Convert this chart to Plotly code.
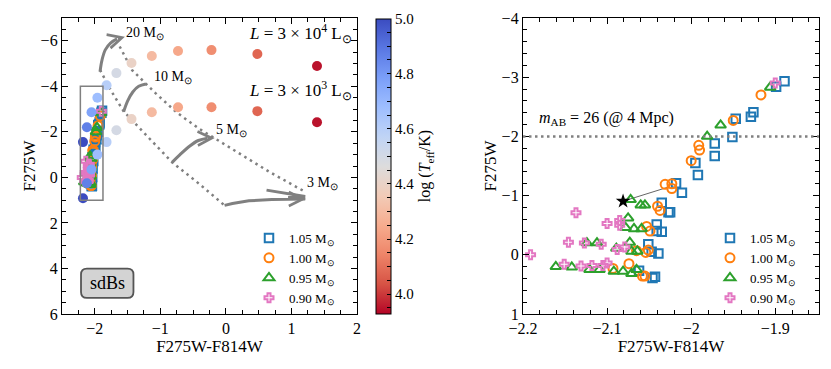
import plotly.graph_objects as go

FONT = "Liberation Serif"
GRAY = "#808080"

# ---- left panel: coloured points at two luminosities ----
teff_x = [1.39, 0.48, -0.22, -0.73, -1.13, -1.44, -1.67, -1.82, -1.96, -2.05, -2.12, -2.18]
teff_y_hi = [-4.89, -5.42, -5.59, -5.55, -5.33, -5.02, -4.58, -4.05, -3.5, -2.86, -2.2, -1.55]
teff_y_lo = [-2.42, -2.91, -3.08, -3.08, -2.86, -2.56, -2.07, -1.55, -1.0, -0.35, 0.26, 0.92]
log_teff = [3.95, 4.08, 4.17, 4.24, 4.3, 4.4, 4.5, 4.6, 4.68, 4.77, 4.87, 5.0]

# evolutionary tracks (solid grey)
trk20_x = [-1.92, -1.89, -1.84, -1.76, -1.66]
trk20_y = [-4.64, -5.15, -5.6, -5.9, -6.08]
trk10_x = [-1.56, -1.50, -1.42, -1.33, -1.22]
trk10_y = [-2.88, -3.35, -3.75, -4.0, -4.1]
trk5_x = [-0.82, -0.70, -0.55, -0.42, -0.28]
trk5_y = [-0.66, -1.0, -1.38, -1.62, -1.72]
trk3_x = [-0.02, 0.1, 0.35, 0.7, 1.21, 0.95, 1.21, 0.62]
trk3_y = [1.23, 1.15, 1.03, 0.97, 0.95, 0.88, 0.84, 0.56]

# dotted lines joining track starts / ends
zams_x = [-1.92, -1.75, -1.56, -1.2, -0.82, -0.4, -0.02]
zams_y = [-4.72, -3.8, -2.9, -1.8, -0.66, 0.3, 1.23]
tams_x = [-1.62, -1.43, -1.07, -0.75, -0.41, 0.05, 0.67, 1.2]
tams_y = [-5.75, -4.71, -3.69, -2.85, -2.14, -1.34, -0.23, 0.62]

# ---- model points (both panels) ----
m105_x = [-1.889, -1.899, -1.926, -1.929, -1.947, -1.951, -1.972, -1.972, -1.995, -1.992, -2.018, -2.011,
          -2.035, -2.027, -2.025, -2.041, -2.041, -2.035, -2.051, -2.047, -2.039, -2.062, -2.046, -2.043]
m105_y = [-2.93, -2.84, -2.41, -2.33, -2.30, -1.99, -1.88, -1.67, -1.55, -1.35, -1.21, -1.05,
          -0.88, -0.72, -0.72, -0.51, -0.40, -0.39, -0.18, -0.05, -0.02, 0.27, 0.39, 0.37]
m100_x = [-1.917, -1.950, -1.991, -1.990, -2.0, -2.031, -2.023, -2.023, -2.040, -2.037, -2.053, -2.049,
          -2.065, -2.054, -2.051, -2.093, -2.074, -2.058, -2.055]
m100_y = [-2.70, -2.27, -1.85, -1.77, -1.59, -1.19, -1.20, -1.12, -0.82, -0.75, -0.48, -0.40,
          -0.07, -0.04, -0.08, 0.23, 0.15, 0.36, 0.36]
m095_x = [-1.906, -1.965, -1.981, -2.072, -2.060, -2.055, -2.075, -2.078, -2.068, -2.059, -2.124, -2.112,
          -2.089, -2.073, -2.071, -2.064, -2.161, -2.142, -2.121, -2.109, -2.092, -2.081, -2.071, -2.065]
m095_y = [-2.83, -2.19, -2.0, -0.93, -0.84, -0.84, -0.62, -0.46, -0.44, -0.44, -0.20, -0.20,
          -0.11, -0.21, -0.06, -0.06, 0.20, 0.21, 0.25, 0.25, 0.28, 0.28, 0.32, 0.25]
m090_x = [-1.900, -2.137, -2.100, -2.085, -2.085, -2.146, -2.127, -2.107, -2.088, -2.079, -2.191,
          -2.151, -2.131, -2.118, -2.105, -2.100]
m090_y = [-2.90, -0.71, -0.53, -0.58, -0.50, -0.21, -0.20, -0.18, -0.09, -0.13, 0.0,
          0.16, 0.19, 0.18, 0.18, 0.14]

star_x = [-2.081]
star_y = [-0.905]
link_x = [-2.081, -2.028]
link_y = [-0.905, -1.14]

models = [
    ("1.05 M<sub>⊙</sub>", m105_x, m105_y, "square-open", "#1f77b4", 8.5, 2),
    ("1.00 M<sub>⊙</sub>", m100_x, m100_y, "circle-open", "#ff7f0e", 9, 2),
    ("0.95 M<sub>⊙</sub>", m095_x, m095_y, "triangle-up-open", "#2ca02c", 9.5, 2),
    ("0.90 M<sub>⊙</sub>", m090_x, m090_y, "cross-open", "#e377c2", 7.5, 2),
]

coolwarm_r = [[0.0, "#b40426"], [0.1, "#d65244"], [0.2, "#ee8468"], [0.3, "#f7ac8e"],
              [0.4, "#f2cbb7"], [0.5, "#dddcdc"], [0.6, "#c0d4f5"], [0.7, "#9ebeff"],
              [0.8, "#7b9ff9"], [0.9, "#5977e3"], [1.0, "#3b4cc0"]]

# plot area in pixels: x 60..819, y 18..314
L, R, T, B = 60, 12, 18, 55
PW = 831 - L - R


def fx(px):
    return (px - L) / PW


fig = go.Figure()

for xs, ys in [(zams_x, zams_y), (tams_x, tams_y)]:
    fig.add_trace(go.Scatter(x=xs, y=ys, mode="lines", line=dict(color=GRAY, width=2.5, dash="2.5px,4px"),
                             showlegend=False, hoverinfo="skip", xaxis="x", yaxis="y"))
for xs, ys, shp in [(trk20_x, trk20_y, "spline"), (trk10_x, trk10_y, "spline"),
                    (trk5_x, trk5_y, "spline"), (trk3_x, trk3_y, "linear")]:
    fig.add_trace(go.Scatter(x=xs, y=ys, mode="lines", line=dict(color=GRAY, width=3, shape=shp),
                             showlegend=False, hoverinfo="skip", xaxis="x", yaxis="y"))

# rectangle around the sdB region
fig.add_shape(type="rect", xref="x", yref="y", x0=-2.22, x1=-1.875, y0=-4, y1=1,
              line=dict(color=GRAY, width=1.5))

for name, xs, ys, sym, col, sz, lw in models:
    fig.add_trace(go.Scatter(x=xs, y=ys, mode="markers", name=name,
                             marker=dict(symbol=sym, size=sz, color=col, line=dict(width=lw, color=col)),
                             xaxis="x", yaxis="y", legend="legend"))

fig.add_trace(go.Scatter(
    x=teff_x + teff_x, y=teff_y_hi + teff_y_lo, mode="markers", showlegend=False,
    marker=dict(size=10, color=log_teff + log_teff, colorscale=coolwarm_r, cmin=3.93, cmax=5.0,
                line=dict(width=0),
                colorbar=dict(x=fx(376), xanchor="left", xpad=0, y=0.5, yanchor="middle", ypad=0,
                              len=0.995, thickness=15, outlinewidth=1, outlinecolor="black",
                              tickvals=[round(3.95 + 0.05 * i, 2) for i in range(22)],
                              ticktext=[("%.1f" % (3.95 + 0.05 * i)) if i % 4 == 1 else "" for i in range(22)],
                              ticks="inside", ticklen=4, tickcolor="black",
                              tickfont=dict(family=FONT, size=15, color="black"),
                              title=dict(text="log (<i>T</i><sub>eff</sub>/K)", side="right",
                                         font=dict(family=FONT, size=16, color="black")))),
    xaxis="x", yaxis="y"))

# ---- right panel ----
fig.add_trace(go.Scatter(x=link_x, y=link_y, mode="lines", line=dict(color="#666666", width=1),
                         showlegend=False, xaxis="x2", yaxis="y2"))
for name, xs, ys, sym, col, sz, lw in models:
    fig.add_trace(go.Scatter(x=xs, y=ys, mode="markers", name=name,
                             marker=dict(symbol=sym, size=sz, color=col, line=dict(width=lw, color=col)),
                             xaxis="x2", yaxis="y2", legend="legend2"))
fig.add_trace(go.Scatter(x=star_x, y=star_y, mode="markers", showlegend=False,
                         marker=dict(symbol="star", size=11, color="black"), xaxis="x2", yaxis="y2"))

fig.add_shape(type="line", xref="x2 domain", yref="y2", x0=0, x1=1, y0=-2, y1=-2,
              line=dict(color=GRAY, width=2.5, dash="2.5px,3.5px"))

# arrowheads on tracks
arrows = [(-1.54, -6.18, -1.66, -6.08), (-1.12, -4.13, -1.22, -4.1),
          (-0.17, -1.73, -0.28, -1.72), (1.22, 0.95, 1.1, 0.95)]
for x, y, ax, ay in arrows:
    fig.add_annotation(x=x, y=y, ax=ax, ay=ay, xref="x", yref="y", axref="x", ayref="y", text="",
                       showarrow=True, arrowhead=5, arrowsize=1.1, arrowwidth=2.5, arrowcolor=GRAY,
                       standoff=0)

labels = [("20 M<sub>⊙</sub>", -1.56, -6.34), ("10 M<sub>⊙</sub>", -1.13, -4.4),
          ("5 M<sub>⊙</sub>", -0.18, -2.07), ("3 M<sub>⊙</sub>", 1.21, 0.27)]
for t, x, y in labels:
    fig.add_annotation(x=x, y=y, xref="x", yref="y", text=t, showarrow=False, xanchor="left",
                       font=dict(family=FONT, size=14, color="black"))

for t, y in [("<i>L</i> = 3 × 10<sup>4</sup> L<sub>⊙</sub>", -6.34),
             ("<i>L</i> = 3 × 10<sup>3</sup> L<sub>⊙</sub>", -3.83)]:
    fig.add_annotation(x=1.95, y=y, xref="x", yref="y", text=t, showarrow=False, xanchor="right",
                       font=dict(family=FONT, size=17, color="black"))

# sdBs rounded box
x0, x1, y0, y1, rx, ry = -2.21, -1.41, 4.01, 5.29, 0.09, 0.26
path = (f"M {x0+rx},{y0} L {x1-rx},{y0} Q {x1},{y0} {x1},{y0+ry} L {x1},{y1-ry} Q {x1},{y1} {x1-rx},{y1} "
        f"L {x0+rx},{y1} Q {x0},{y1} {x0},{y1-ry} L {x0},{y0+ry} Q {x0},{y0} {x0+rx},{y0} Z")
fig.add_shape(type="path", path=path, xref="x", yref="y", fillcolor="#d3d3d3",
              line=dict(color="#555555", width=1.8))
fig.add_annotation(x=-1.81, y=4.65, xref="x", yref="y", text="sdBs", showarrow=False,
                   font=dict(family=FONT, size=18, color="black"))

fig.add_annotation(x=-2.183, y=-2.31, xref="x2", yref="y2", xanchor="left",
                   text="<i>m</i><sub>AB</sub> = 26 (@ 4 Mpc)", showarrow=False,
                   font=dict(family=FONT, size=16, color="black"))


def axis(rng, dtick, minor, domain, title, anchor):
    return dict(range=rng, dtick=dtick, tick0=0, domain=domain, anchor=anchor, automargin=False,
                showline=True, linecolor="black", linewidth=1.3, mirror="allticks",
                ticks="inside", ticklen=6, tickwidth=1.2, tickcolor="black",
                minor=dict(dtick=minor, ticks="inside", ticklen=3.5, tickwidth=1, tickcolor="black"),
                showgrid=False, zeroline=False,
                tickfont=dict(family=FONT, size=16, color="black"),
                title=dict(text=title, font=dict(family=FONT, size=17, color="black"), standoff=0))


leg_y = (314 - 223) / (369 - T - B)
fig.update_layout(
    width=831, height=369, margin=dict(l=L, r=R, t=T, b=B, autoexpand=False),
    paper_bgcolor="white", plot_bgcolor="white",
    xaxis=axis([-2.5, 2], 1, 0.25, [fx(62), fx(357)], "F275W-F814W", "y"),
    yaxis=axis([6, -7], 2, 0.5, [0, 1], "F275W", "x"),
    xaxis2=axis([-2.2, -1.848], 0.1, 0.02, [fx(523), fx(819)], "F275W-F814W", "y2"),
    yaxis2=axis([1, -4], 1, 0.2, [0, 1], "F275W", "x2"),
    legend=dict(x=fx(249), y=leg_y, xanchor="left", yanchor="top", bgcolor="rgba(0,0,0,0)",
                font=dict(family=FONT, size=13, color="black"), tracegroupgap=0),
    legend2=dict(x=fx(710), y=leg_y, xanchor="left", yanchor="top", bgcolor="rgba(0,0,0,0)",
                 font=dict(family=FONT, size=13, color="black"), tracegroupgap=0),
    showlegend=True,
)

fig.write_html("out.html", config={"displayModeBar": False},
               post_script="document.body.style.margin='0';")
